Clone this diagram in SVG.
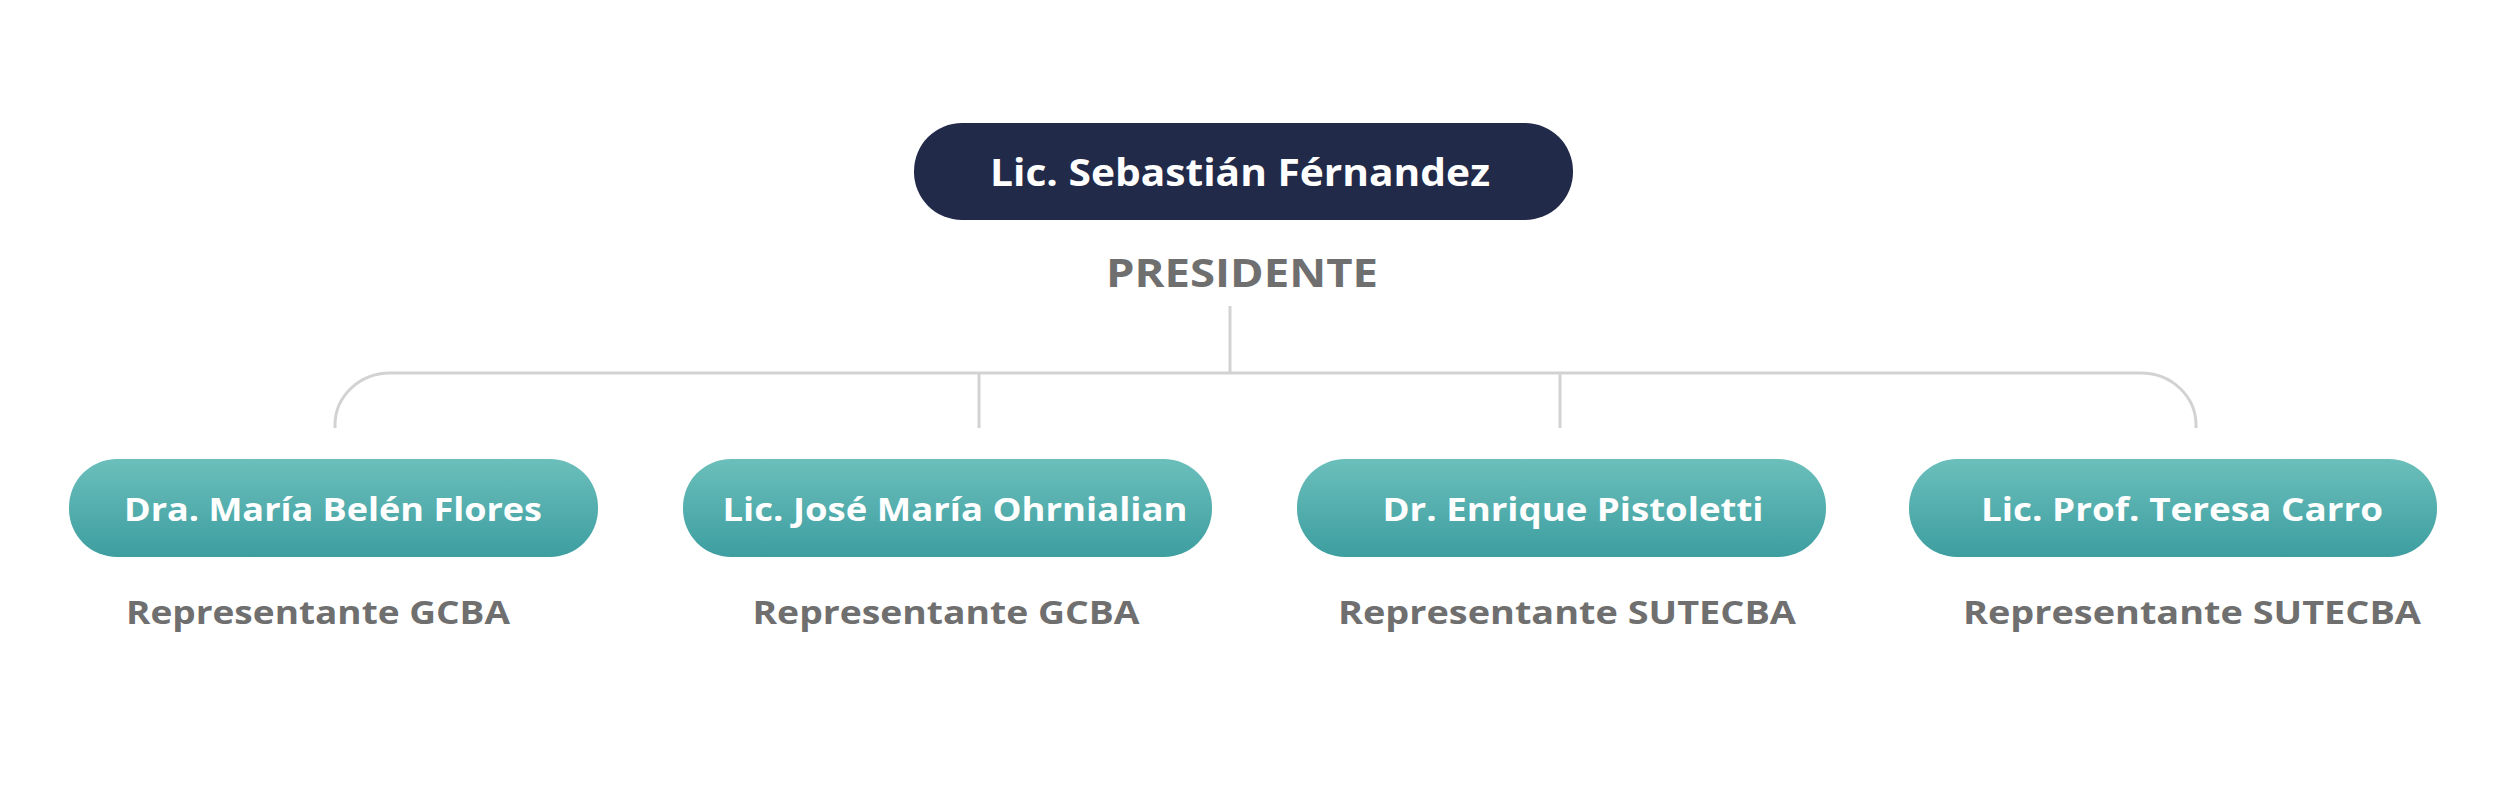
<svg xmlns="http://www.w3.org/2000/svg" width="2501" height="801" viewBox="0 0 2501 801">
<defs>
<linearGradient id="teal" x1="0" y1="0" x2="0" y2="1">
<stop offset="0" stop-color="#6bbfbb"/>
<stop offset="1" stop-color="#3d9ea0"/>
</linearGradient>
<style>
.name{font-family:"Open Sans","Liberation Sans",sans-serif;font-weight:700;font-size:33px;fill:#ffffff;text-anchor:middle}
.role{font-family:"Open Sans","Liberation Sans",sans-serif;font-weight:700;font-size:33px;fill:#6f6f6f;text-anchor:middle}
.conn{fill:none;stroke:#d2d2d2;stroke-width:3}
.child{fill:url(#teal)}
</style>
</defs>
<rect width="2501" height="801" fill="#ffffff"/>
<g id="connectors">
<path class="conn" d="M1230,306 V373"/>
<path class="conn" d="M335,428 V425 A55,52 0 0 1 390,373 H2141 A55,52 0 0 1 2196,425 V428"/>
<path class="conn" d="M979,373 V428"/>
<path class="conn" d="M1560,373 V428"/>
</g>
<g id="president">
<rect x="914" y="123" width="659" height="97" rx="48" fill="#222a4a"/>
<text class="name" x="1240" y="186" style="font-size:37px" textLength="500" lengthAdjust="spacingAndGlyphs">Lic. Sebastián Férnandez</text>
<text class="role" x="1242" y="287" style="font-size:39px" textLength="272" lengthAdjust="spacingAndGlyphs">PRESIDENTE</text>
</g>
<g id="flores">
<rect class="child" x="69" y="459" width="529" height="98" rx="48"/>
<text class="name" x="333" y="521" textLength="418" lengthAdjust="spacingAndGlyphs">Dra. María Belén Flores</text>
<text class="role" x="318" y="624" textLength="384" lengthAdjust="spacingAndGlyphs">Representante GCBA</text>
</g>
<g id="ohrnialian">
<rect class="child" x="683" y="459" width="529" height="98" rx="48"/>
<text class="name" x="955" y="521" textLength="465" lengthAdjust="spacingAndGlyphs">Lic. José María Ohrnialian</text>
<text class="role" x="946" y="624" textLength="387" lengthAdjust="spacingAndGlyphs">Representante GCBA</text>
</g>
<g id="pistoletti">
<rect class="child" x="1297" y="459" width="529" height="98" rx="48"/>
<text class="name" x="1573" y="521" textLength="381" lengthAdjust="spacingAndGlyphs">Dr. Enrique Pistoletti</text>
<text class="role" x="1567" y="624" textLength="458" lengthAdjust="spacingAndGlyphs">Representante SUTECBA</text>
</g>
<g id="carro">
<rect class="child" x="1909" y="459" width="528" height="98" rx="48"/>
<text class="name" x="2182" y="521" textLength="402" lengthAdjust="spacingAndGlyphs">Lic. Prof. Teresa Carro</text>
<text class="role" x="2192" y="624" textLength="458" lengthAdjust="spacingAndGlyphs">Representante SUTECBA</text>
</g>
</svg>
